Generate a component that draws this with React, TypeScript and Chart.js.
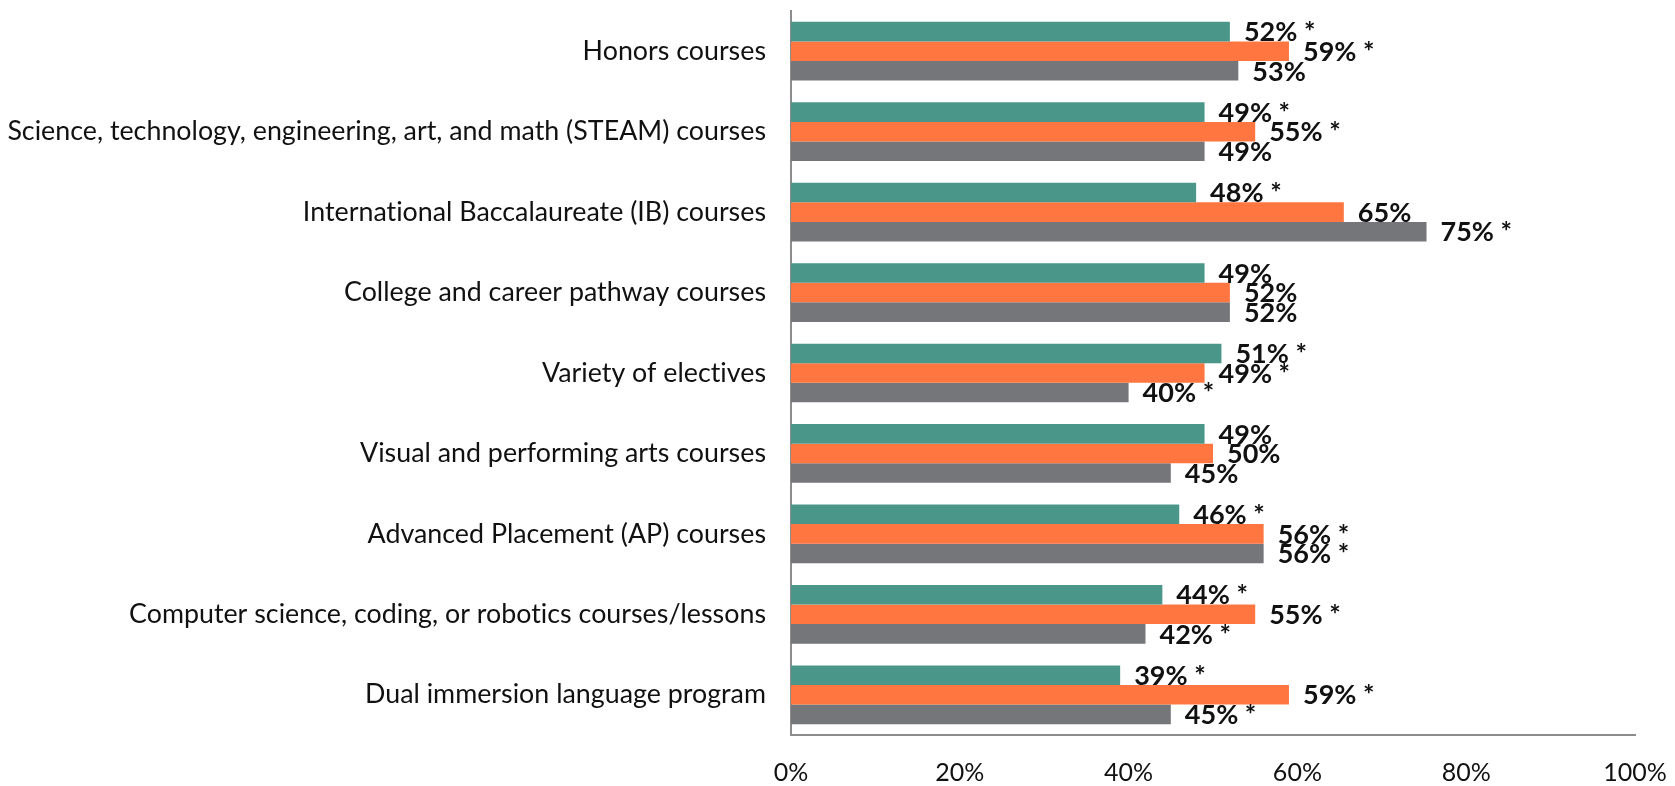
import { useEffect, useRef } from "react";
import { Chart, registerables } from "chart.js";

Chart.register(...registerables);

const categories = [
  "Honors courses",
  "Science, technology, engineering, art, and math (STEAM) courses",
  "International Baccalaureate (IB) courses",
  "College and career pathway courses",
  "Variety of electives",
  "Visual and performing arts courses",
  "Advanced Placement (AP) courses",
  "Computer science, coding, or robotics courses/lessons",
  "Dual immersion language program",
];

const tealValues = [52, 49, 48, 49, 51, 49, 46, 44, 39];
const orangeValues = [59, 55, 65.5, 52, 49, 50, 56, 55, 59];
const grayValues = [53, 49, 75.3, 52, 40, 45, 56, 42, 45];

const tealLabels = ["52% *", "49% *", "48% *", "49%", "51% *", "49%", "46% *", "44% *", "39% *"];
const orangeLabels = ["59% *", "55% *", "65%", "52%", "49% *", "50%", "56% *", "55% *", "59% *"];
const grayLabels = ["53%", "49%", "75% *", "52%", "40% *", "45%", "56% *", "42% *", "45% *"];

const xTicks = [0, 20, 40, 60, 80, 100];

const allLabels = [tealLabels, orangeLabels, grayLabels];

export default function App() {
  const ref = useRef<HTMLCanvasElement>(null);

  useEffect(() => {
    if (!ref.current) return;
    Chart.defaults.font.family = "Lato";

    const noLigatures = {
      id: "noLigatures",
      beforeDraw(chart: any) {
        (chart.ctx as any).letterSpacing = "0.01px";
      },
    };

    const labelPlugin = {
      id: "barLabels",
      afterDatasetsDraw(chart: any) {
        const ctx = chart.ctx;
        ctx.save();
        ctx.font = "bold 27px Lato";
        ctx.fillStyle = "#111111";
        ctx.textAlign = "left";
        ctx.textBaseline = "middle";
        chart.data.datasets.forEach((_ds: any, di: number) => {
          const meta = chart.getDatasetMeta(di);
          meta.data.forEach((el: any, i: number) => {
            ctx.fillText(allLabels[di][i], el.x + 14, el.y + 1);
          });
        });
        ctx.restore();
      },
    };

    const chart = new Chart(ref.current, {
      type: "bar",
      data: {
        labels: categories,
        datasets: [
          { label: "A", data: tealValues, backgroundColor: "#4A978A", borderWidth: 0 },
          { label: "B", data: orangeValues, backgroundColor: "#FF7640", borderWidth: 0 },
          { label: "C", data: grayValues, backgroundColor: "#75767A", borderWidth: 0 },
        ],
      },
      options: {
        indexAxis: "y",
        animation: false,
        responsive: true,
        maintainAspectRatio: false,
        layout: { padding: { top: 11, right: 40, left: 0, bottom: 0 } },
        datasets: { bar: { categoryPercentage: 0.73, barPercentage: 1.0 } },
        plugins: {
          legend: { display: false },
          tooltip: { enabled: false },
        },
        scales: {
          x: {
            type: "linear",
            min: 0,
            max: 100,
            afterBuildTicks: (scale: any) => {
              scale.ticks = xTicks.map((v) => ({ value: v }));
            },
            afterFit: (scale: any) => {
              scale.height = 51;
              scale.paddingLeft = 0;
              scale.paddingRight = 0;
              scale.paddingTop = 0;
              scale.paddingBottom = 0;
            },
            grid: { display: false, drawTicks: false },
            border: { display: true, color: "#8c8c8c", width: 2 },
            ticks: {
              padding: 23,
              color: "#111111",
              font: { size: 25, family: "Lato" },
              callback: (v: any) => v + "%",
            },
          },
          y: {
            type: "category",
            afterFit: (scale: any) => {
              scale.width = 791;
              scale.paddingLeft = 0;
              scale.paddingRight = 0;
              scale.paddingTop = 0;
              scale.paddingBottom = 0;
            },
            grid: { display: false, drawTicks: false },
            border: { display: true, color: "#8c8c8c", width: 2 },
            ticks: {
              padding: 25,
              color: "#111111",
              font: { size: 26.8, family: "Lato" },
              autoSkip: false,
            },
          },
        },
      },
      plugins: [noLigatures, labelPlugin],
    });

    return () => chart.destroy();
  }, []);

  return (
    <div style={{ position: "fixed", left: 0, top: 0, width: 1675, height: 786, background: "#fff" }}>
      <canvas ref={ref} />
    </div>
  );
}
